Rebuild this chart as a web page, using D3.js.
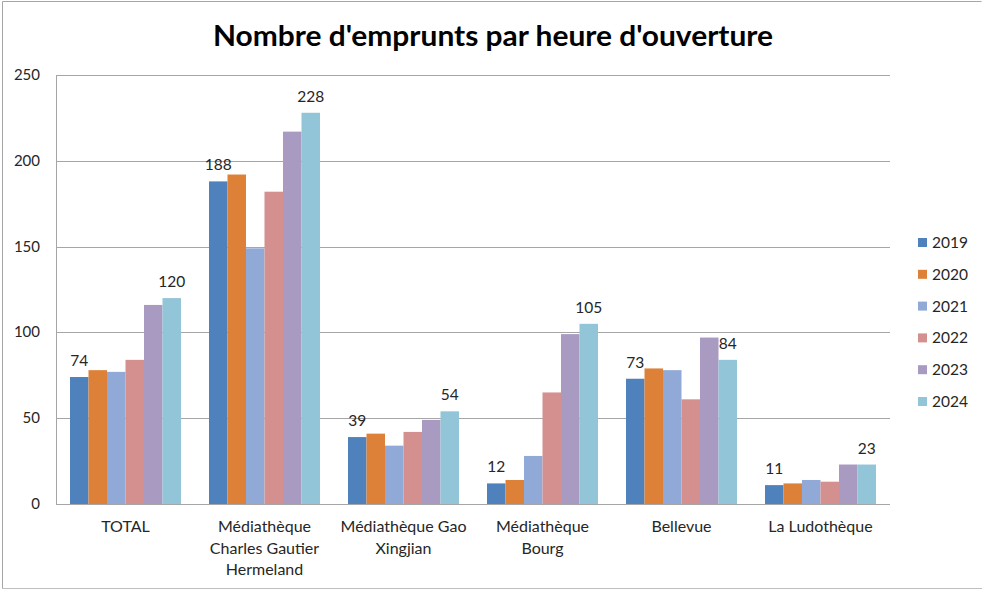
<!DOCTYPE html>
<html><head><meta charset="utf-8">
<script src="https://cdn.jsdelivr.net/npm/d3@7"></script>
<style>body{margin:0;background:#fff}svg{display:block}</style>
</head><body>
<svg id="c" width="982" height="590"></svg>
<script>
const categories = ["TOTAL", "Médiathèque Charles Gautier Hermeland", "Médiathèque Gao Xingjian", "Médiathèque Bourg", "Bellevue", "La Ludothèque"];
const categoryLines = [["TOTAL"], ["Médiathèque", "Charles Gautier", "Hermeland"], ["Médiathèque Gao", "Xingjian"], ["Médiathèque", "Bourg"], ["Bellevue"], ["La Ludothèque"]];
const years = ["2019", "2020", "2021", "2022", "2023", "2024"];
const v2019 = [74, 188, 39, 12, 73, 11];
const v2020 = [78, 192, 41, 14, 79, 12];
const v2021 = [77, 149, 34, 28, 78, 14];
const v2022 = [84, 182, 42, 65, 61, 13];
const v2023 = [116, 217, 49, 99, 97, 23];
const v2024 = [120, 228, 54, 105, 84, 23];
const labeledYears = ["2019", "2024"];
const yTicks = [0, 50, 100, 150, 200, 250];
const colors = ["#4f81bd", "#dd8038", "#91a9d6", "#d48f8f", "#a89ac0", "#92c5d8"];
const title = "Nombre d'emprunts par heure d'ouverture";

const series = [v2019, v2020, v2021, v2022, v2023, v2024];
const svg = d3.select("#c");
const font = "Lato, 'Open Sans', sans-serif";
const L = 56, R = 890, T = 75, B = 504;

// chart border
svg.append("path").attr("d", "M2.5,588.5 L2.5,1.5 L981.5,1.5").attr("fill", "none").attr("stroke", "#a6a6a6");
svg.append("line").attr("x1", 2).attr("x2", 982).attr("y1", 588.5).attr("y2", 588.5).attr("stroke", "#bfbfbf");

const y = d3.scaleLinear().domain([0, 250]).range([B, T]);
const x0 = d3.scaleBand().domain(categories).range([L, R]).padding(0);
const x1 = d3.scaleBand().domain(years).range([14, x0.bandwidth() - 14]).padding(0);

// gridlines
svg.append("g").selectAll("line").data(yTicks).join("line")
  .attr("x1", L).attr("x2", R)
  .attr("y1", d => Math.round(y(d)) + 0.5).attr("y2", d => Math.round(y(d)) + 0.5)
  .attr("stroke", "#a6a6a6").attr("stroke-width", 1);
svg.append("line").attr("x1", L + 0.5).attr("x2", L + 0.5).attr("y1", T).attr("y2", B + 1).attr("stroke", "#a6a6a6");

// y tick labels
svg.append("g").selectAll("text").data(yTicks).join("text")
  .attr("x", 40).attr("y", d => y(d) + 5).attr("text-anchor", "end")
  .attr("font-family", font).attr("font-size", 15).attr("fill", "#262626").text(d => d);

// bars
const groups = svg.append("g").selectAll("g").data(categories).join("g")
  .attr("transform", d => `translate(${x0(d)},0)`);
groups.selectAll("rect").data((c, ci) => years.map((yr, yi) => ({yr, yi, v: series[yi][ci]}))).join("rect")
  .attr("x", d => x1(d.yr)).attr("width", x1.bandwidth())
  .attr("y", d => y(d.v)).attr("height", d => B - y(d.v))
  .attr("fill", d => colors[d.yi]);

// data labels
groups.selectAll("text.lbl").data((c, ci) => years.map((yr, yi) => ({yr, yi, v: series[yi][ci]})).filter(d => labeledYears.includes(d.yr))).join("text")
  .attr("class", "lbl")
  .attr("x", d => x1(d.yr) + x1.bandwidth() / 2).attr("y", d => y(d.v) - 11)
  .attr("text-anchor", "middle").attr("font-family", font).attr("font-size", 15.5).attr("fill", "#262626")
  .text(d => d.v);

// category labels
const cl = svg.append("g").selectAll("text").data(categories).join("text")
  .attr("x", d => x0(d) + x0.bandwidth() / 2).attr("y", 532)
  .attr("text-anchor", "middle").attr("font-family", font).attr("font-size", 16).attr("fill", "#262626");
cl.each(function(d, i) {
  d3.select(this).selectAll("tspan").data(categoryLines[i]).join("tspan")
    .attr("x", x0(d) + x0.bandwidth() / 2).attr("dy", (t, j) => j === 0 ? 0 : 21.5).text(t => t);
});

// legend
const lg = svg.append("g").selectAll("g").data(years).join("g")
  .attr("transform", (d, i) => `translate(918,${243 + i * 31.8})`);
lg.append("rect").attr("x", 0).attr("y", -5).attr("width", 9).attr("height", 9).attr("fill", (d, i) => colors[i]);
lg.append("text").attr("x", 14).attr("y", 5).attr("font-family", font).attr("font-size", 15.5).attr("fill", "#262626").text(d => d);

// title
svg.append("text").attr("x", 493).attr("y", 46).attr("text-anchor", "middle")
  .attr("font-family", font).attr("font-weight", "bold").attr("font-size", 29).attr("fill", "#000")
  .attr("textLength", 560).attr("lengthAdjust", "spacingAndGlyphs").text(title);
</script>
</body></html>
